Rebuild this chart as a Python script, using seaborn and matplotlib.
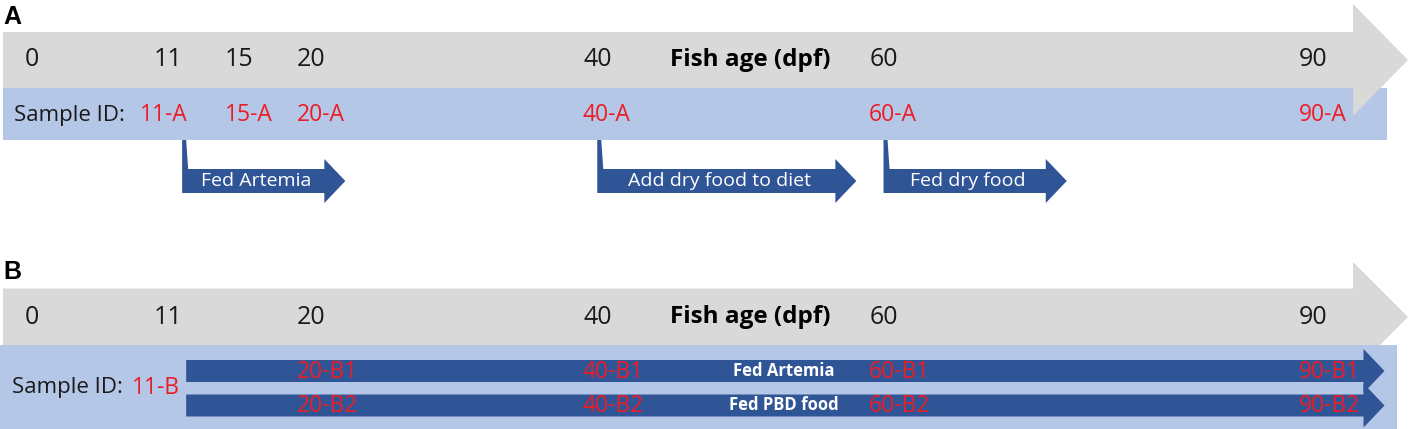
import numpy as np
import pandas as pd
import matplotlib
matplotlib.use("Agg")
import matplotlib.pyplot as plt
from matplotlib.patches import Polygon, Rectangle
import seaborn as sns

# ---------------- data ----------------
ticks_A = [0, 11, 15, 20, 40, 60, 90]
ticks_B = [0, 11, 20, 40, 60, 90]
samples_A_days = [11, 15, 20, 40, 60, 90]
samples_A_ids = ["11-A", "15-A", "20-A", "40-A", "60-A", "90-A"]
feed_A_labels = ["Fed Artemia", "Add dry food to diet", "Fed dry food"]
feed_A_start = [11, 40, 60]
feed_A_end = [22.4, 58.1, 72.8]
samples_B_days = [20, 40, 60, 90]
samples_B1_ids = ["20-B1", "40-B1", "60-B1", "90-B1"]
samples_B2_ids = ["20-B2", "40-B2", "60-B2", "90-B2"]
feed_B_labels = ["Fed Artemia", "Fed PBD food"]
feed_B_start = [11, 11]
feed_B_end = [95, 95]
start_id_B = "11-B"
axis_title = "Fish age (dpf)"

# ---------------- style ----------------
sns.set_theme(style="white")
plt.rcParams["font.family"] = ["Open Sans", "DejaVu Sans"]

GRAY = "#D9D9D9"
BAND = "#B4C7E7"
DARK = "#2F5597"
RED = "#EE1C25"
TXT = "#1A1A1A"

# label nudges in pixels (layout only)
TICK_NUDGE = {0: 7, 11: -14}
ID_NUDGE = {11: -28}

W, H = 1409, 429
PXD = 14.314          # pixels per day
X0 = 24.7             # pixel position of day 0

fig = plt.figure(figsize=(W / 100, H / 100), dpi=100)
ax = fig.add_axes([0, 0, 1, 1])
xmin, xmax = -X0 / PXD, (W - X0) / PXD
ax.set_xlim(xmin, xmax)
ax.set_ylim(H, 0)
ax.axis("off")


def px(p):
    """pixel distance -> day units"""
    return p / PXD


def timeline(cy, half_body, half_head, z):
    left = xmin + px(3)
    tip = xmax - px(1)
    hx = tip - px(55)
    pts = [(left, cy - half_body), (hx, cy - half_body), (hx, cy - half_head),
           (tip, cy), (hx, cy + half_head), (hx, cy + half_body), (left, cy + half_body)]
    ax.add_patch(Polygon(pts, closed=True, fc=GRAY, ec="none", zorder=z))


def flat_arrow(s, e, cy, hb, hh, stem_top=None, z=4):
    hx = e - px(21)
    if stem_top is None:
        pts = [(s, cy - hb)]
    else:
        pts = [(s, stem_top), (s + px(4), stem_top), (s + px(6), cy - hb)]
    pts += [(hx, cy - hb), (hx, cy - hh), (e, cy), (hx, cy + hh), (hx, cy + hb), (s, cy + hb)]
    ax.add_patch(Polygon(pts, closed=True, fc=DARK, ec="none", zorder=z))


def tick_labels(ticks, cy):
    for d in ticks:
        ax.text(d + px(TICK_NUDGE.get(d, 0)), cy, str(d), ha="center", va="center",
                fontsize=18, color=TXT, zorder=5)
    ax.text(750 / PXD + xmin, cy, axis_title, ha="center", va="center", fontsize=17.5,
            fontweight="bold", color="black", zorder=5)


# ---------------- panel A ----------------
ax.text(xmin + px(3), 17, "A", ha="left", va="center", fontsize=18,
        fontweight="bold", family=["Liberation Sans", "DejaVu Sans"], color="black")
ax.add_patch(Rectangle((xmin + px(3), 88), px(1384), 52, fc=BAND, ec="none", zorder=1))
timeline(60, 28, 56, 2)
tick_labels(ticks_A, 60)
ax.text(xmin + px(14), 115, "Sample ID:", ha="left", va="center", fontsize=16, color=TXT, zorder=5)
for d, s in zip(samples_A_days, samples_A_ids):
    ax.text(d - px(14.5) + px(ID_NUDGE.get(d, 0)), 115, s, ha="left", va="center",
            fontsize=16.5, color=RED, zorder=5)
for lab, s, e in zip(feed_A_labels, feed_A_start, feed_A_end):
    flat_arrow(s, e, 181, 12, 22, stem_top=140)
    ax.text((s + e - px(21)) / 2 + px(3), 181, lab, ha="center", va="center",
            fontsize=14, color="white", zorder=6)

# ---------------- panel B ----------------
ax.text(xmin + px(3), 272, "B", ha="left", va="center", fontsize=18,
        fontweight="bold", family=["Liberation Sans", "DejaVu Sans"], color="black")
timeline(317, 28.5, 55, 1)
ax.add_patch(Rectangle((xmin, 345), px(1397), 84, fc=BAND, ec="none", zorder=2))
tick_labels(ticks_B, 317)
ax.text(xmin + px(12), 388, "Sample ID:", ha="left", va="center", fontsize=16, color=TXT, zorder=5)
ax.text(11 - px(50), 388, start_id_B, ha="left", va="center", fontsize=16.5, color=RED, zorder=5)
row_y = [371, 405.5]
for (lab, s, e), cy, ids in zip(zip(feed_B_labels, feed_B_start, feed_B_end), row_y,
                                [samples_B1_ids, samples_B2_ids]):
    flat_arrow(s + px(4), e, cy, 11, 22, z=3)
    ax.text(53.0, cy, lab, ha="center", va="center", fontsize=12,
            fontweight="bold", color="white", zorder=6)
    for d, sid in zip(samples_B_days, ids):
        ax.text(d - px(14.5), cy + 1, sid, ha="left", va="center", fontsize=16.5,
                color=RED, zorder=6)

fig.savefig("out.png", dpi=100)
